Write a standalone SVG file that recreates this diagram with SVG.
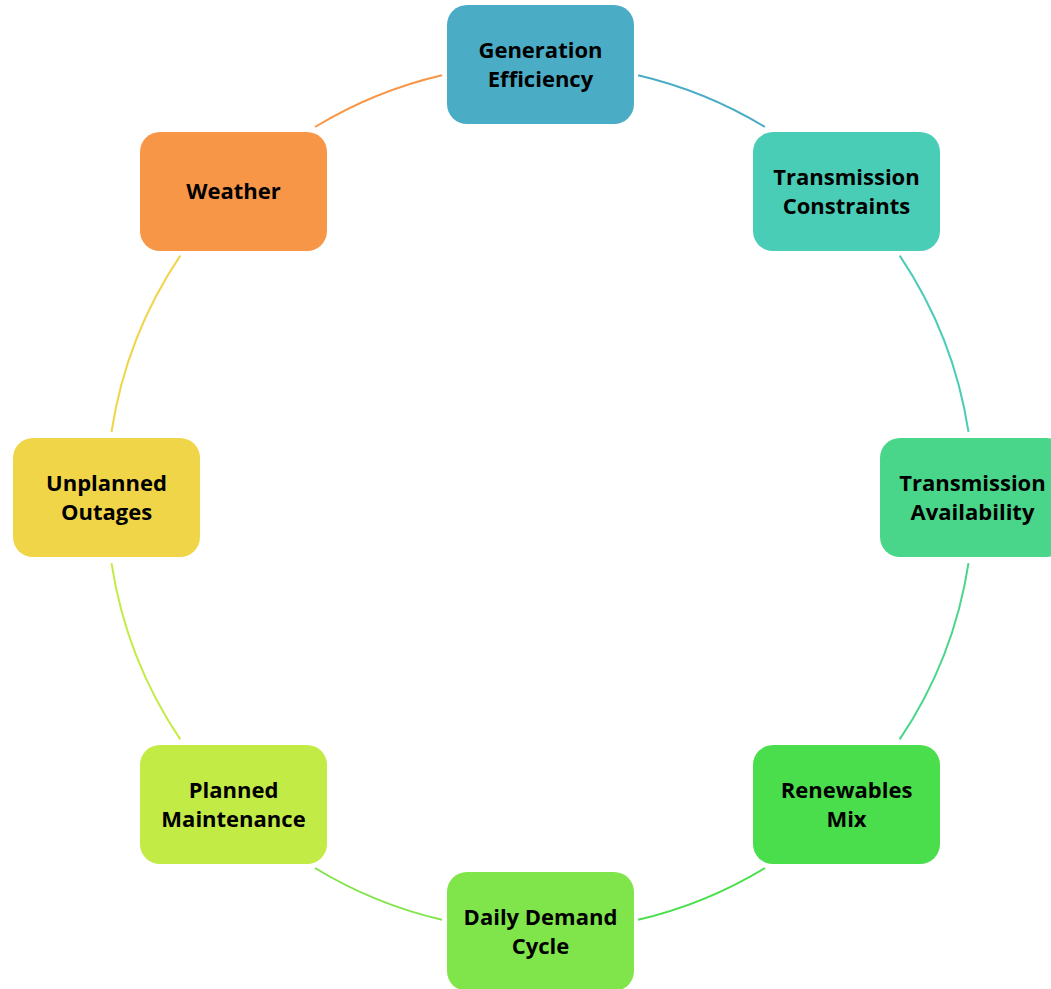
<svg xmlns="http://www.w3.org/2000/svg" width="1051" height="989" viewBox="0 0 1051 989">
<style>
.node rect{stroke:none}
.lbl{font-family:"Open Sans","Liberation Sans",sans-serif;font-weight:bold;font-size:22px;fill:#000;text-anchor:middle;font-variant-ligatures:none}
.arc{fill:none;stroke-width:2}
</style>
<rect width="1051" height="989" fill="#fff"/>
<g id="connectors">
<path class="arc" stroke="#F79646" d="M315.0 127.0 A433.5 433.5 0 0 1 442.0 75.2"/>
<path class="arc" stroke="#4BACC6" d="M638.0 75.2 A433.5 433.5 0 0 1 765.0 127.0"/>
<path class="arc" stroke="#4ACDB6" d="M899.7 255.6 A433.5 433.5 0 0 1 968.5 431.9"/>
<path class="arc" stroke="#4AD68A" d="M968.5 563.1 A433.5 433.5 0 0 1 899.7 739.4"/>
<path class="arc" stroke="#4ADE4D" d="M765.0 868.0 A433.5 433.5 0 0 1 638.0 919.8"/>
<path class="arc" stroke="#80E54B" d="M442.0 919.8 A433.5 433.5 0 0 1 315.0 868.0"/>
<path class="arc" stroke="#C3EB46" d="M180.3 739.4 A433.5 433.5 0 0 1 111.5 563.1"/>
<path class="arc" stroke="#F1D548" d="M111.5 431.9 A433.5 433.5 0 0 1 180.3 255.6"/>
</g>
<g id="generation-efficiency" class="node">
<rect x="447" y="5" width="187" height="119" rx="20" fill="#4BACC6"/>
<text class="lbl" x="540.5" y="58">Generation</text>
<text class="lbl" x="540.5" y="87">Efficiency</text>
</g>
<g id="transmission-constraints" class="node">
<rect x="753" y="132" width="187" height="119" rx="20" fill="#4ACDB6"/>
<text class="lbl" x="846.5" y="185">Transmission</text>
<text class="lbl" x="846.5" y="214">Constraints</text>
</g>
<g id="transmission-availability" class="node">
<rect x="880" y="438" width="187" height="119" rx="20" fill="#4AD68A"/>
<text class="lbl" x="972.5" y="491">Transmission</text>
<text class="lbl" x="972.5" y="520">Availability</text>
</g>
<g id="renewables-mix" class="node">
<rect x="753" y="745" width="187" height="119" rx="20" fill="#4ADE4D"/>
<text class="lbl" x="846.5" y="798">Renewables</text>
<text class="lbl" x="846.5" y="827">Mix</text>
</g>
<g id="daily-demand-cycle" class="node">
<rect x="447" y="872" width="187" height="119" rx="20" fill="#80E54B"/>
<text class="lbl" x="540.5" y="925">Daily Demand</text>
<text class="lbl" x="540.5" y="954">Cycle</text>
</g>
<g id="planned-maintenance" class="node">
<rect x="140" y="745" width="187" height="119" rx="20" fill="#C3EB46"/>
<text class="lbl" x="233.5" y="798">Planned</text>
<text class="lbl" x="233.5" y="827">Maintenance</text>
</g>
<g id="unplanned-outages" class="node">
<rect x="13" y="438" width="187" height="119" rx="20" fill="#F1D548"/>
<text class="lbl" x="106.5" y="491">Unplanned</text>
<text class="lbl" x="106.5" y="520">Outages</text>
</g>
<g id="weather" class="node">
<rect x="140" y="132" width="187" height="119" rx="20" fill="#F79646"/>
<text class="lbl" x="233.5" y="199">Weather</text>
</g>
</svg>
